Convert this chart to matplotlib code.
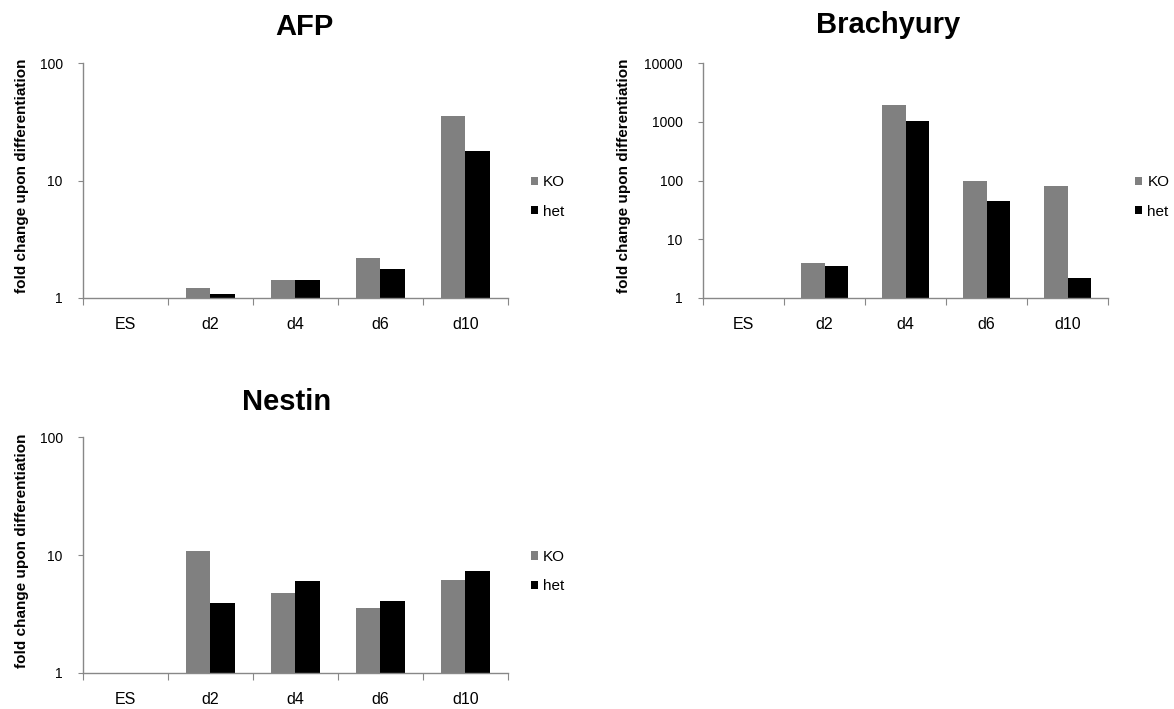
import numpy as np
import matplotlib
matplotlib.use("Agg")
import matplotlib.pyplot as plt

plt.rcParams['font.family'] = ['Liberation Sans', 'DejaVu Sans']

days = ["ES", "d2", "d4", "d6", "d10"]
series = ["KO", "het"]

afp_ko = [1.0, 1.21, 1.42, 2.2, 35.5]
afp_het = [1.0, 1.09, 1.43, 1.78, 18.0]

brachyury_ko = [1.0, 4.0, 1950.0, 97.0, 80.0]
brachyury_het = [1.0, 3.5, 1050.0, 44.0, 2.2]

nestin_ko = [1.0, 10.8, 4.8, 3.55, 6.1]
nestin_het = [1.0, 3.95, 6.0, 4.1, 7.3]

ko_color = "#808080"
het_color = "#000000"
axis_color = "#888888"


def drawPanel(ax, title, koValues, hetValues, ymax, labelX, titleX, titlePad, legendX):
    """Один график: столбцы KO / het в логарифмической шкале"""
    x = np.arange(len(days))
    width = 0.29
    ax.bar(x - width / 2, koValues, width, color=ko_color, label=series[0])
    ax.bar(x + width / 2, hetValues, width, color=het_color, label=series[1])

    ax.set_yscale("log")
    ax.set_ylim(1, ymax)
    ax.set_xlim(-0.5, len(days) - 0.5)
    ax.yaxis.set_major_locator(matplotlib.ticker.LogLocator(base=10, numticks=10))
    ax.yaxis.set_minor_locator(matplotlib.ticker.NullLocator())
    ax.yaxis.set_major_formatter(matplotlib.ticker.FuncFormatter(lambda v, p: f"{v:g}"))

    # деления между категориями, подписи по центрам
    ax.set_xticks(np.arange(len(days) + 1) - 0.5)
    ax.set_xticklabels([])
    ax.set_xticks(x, minor=True)
    ax.set_xticklabels(days, minor=True, fontsize=11.5)
    ax.tick_params(axis="x", which="major", direction="out", length=5, color=axis_color)
    ax.tick_params(axis="x", which="minor", length=0, pad=14)
    ax.tick_params(axis="y", direction="out", length=3.5, color=axis_color, labelsize=10, pad=11)

    for side in ["top", "right"]:
        ax.spines[side].set_visible(False)
    for side in ["left", "bottom"]:
        ax.spines[side].set_color(axis_color)
        ax.spines[side].set_linewidth(1)

    ax.set_title(title, fontsize=21, fontweight="bold", pad=titlePad, x=titleX)
    ax.set_ylabel("fold change upon differentiation", fontsize=11, fontweight="bold")
    ax.yaxis.set_label_coords(labelX, 0.52)

    ax.legend(loc="center left", bbox_to_anchor=(legendX, 0.43), frameon=False,
              fontsize=11, handlelength=0.46, handleheight=0.46, handletextpad=0.33,
              labelspacing=1.0, borderaxespad=0)


fig = plt.figure(figsize=(11.74, 7.09), dpi=100)

axAfp = fig.add_axes([0.0707, 0.5797, 0.362, 0.3314])
axBra = fig.add_axes([0.5988, 0.5797, 0.345, 0.3314])
axNes = fig.add_axes([0.0707, 0.0508, 0.362, 0.3328])

drawPanel(axAfp, "AFP", afp_ko, afp_het, 100, -0.127, 0.52, 20, 1.04)
drawPanel(axBra, "Brachyury", brachyury_ko, brachyury_het, 10000, -0.178, 0.457, 21.5, 1.052)
drawPanel(axNes, "Nestin", nestin_ko, nestin_het, 100, -0.127, 0.478, 19.5, 1.04)

fig.savefig("out.png", dpi=100)
